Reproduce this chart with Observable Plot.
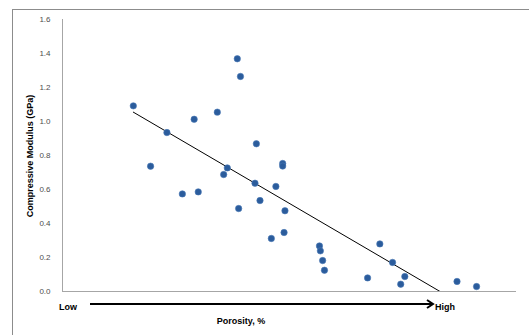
<!DOCTYPE html>
<html>
<head>
<meta charset="utf-8">
<script src="https://cdn.jsdelivr.net/npm/d3@7"></script>
<script src="https://cdn.jsdelivr.net/npm/@observablehq/plot@0.6"></script>
<style>
  html, body { margin: 0; padding: 0; background: #fff; overflow: hidden; }
  #chart { width: 529px; height: 335px; }
</style>
</head>
<body>
<div id="chart"></div>
<script>
// Porosity (relative position along the Low→High axis, 0–100) and compressive modulus (GPa)
const porosity = [15.6, 19.4, 23.0, 26.4, 29.0, 29.9, 34.1, 35.5, 36.3, 38.5, 39.2, 38.8,
  42.7, 42.4, 43.5, 47.0, 48.5, 48.5, 49.0, 48.8, 46.0, 56.6, 56.8, 57.3, 57.7,
  67.2, 69.9, 72.7, 75.4, 74.5, 86.9, 91.2];
const modulus = [1.092, 0.737, 0.935, 0.574, 1.013, 0.586, 1.055, 0.688, 0.727, 1.369, 1.265, 0.488,
  0.869, 0.637, 0.535, 0.618, 0.753, 0.738, 0.475, 0.347, 0.312, 0.268, 0.239, 0.182, 0.125,
  0.080, 0.280, 0.171, 0.088, 0.043, 0.059, 0.029];
const yTicks = [0, 0.2, 0.4, 0.6, 0.8, 1.0, 1.2, 1.4, 1.6];
const yTitle = "Compressive Modulus (GPa)";
const xTitle = "Porosity, %";
const lowLabel = "Low";
const highLabel = "High";

const data = porosity.map((p, i) => ({porosity: p, modulus: modulus[i]}));

const chart = Plot.plot({
  width: 529,
  height: 335,
  marginLeft: 62,
  marginRight: 13,
  marginTop: 19,
  marginBottom: 44,
  style: {fontFamily: "'Liberation Sans', Arial, sans-serif", fontSize: "8px", background: "transparent", overflow: "visible"},
  x: {domain: [0, 100], axis: null},
  y: {domain: [0, 1.6], axis: null},
  marks: [
    Plot.axisY({ticks: yTicks, tickFormat: d3.format(".1f"), tickSize: 0, tickPadding: 12, fill: "#4d4d4d", label: null}),
    Plot.ruleX([0], {stroke: "#a6a6a6", strokeWidth: 1}),
    Plot.ruleY([0], {stroke: "#a6a6a6", strokeWidth: 1}),
    Plot.linearRegressionY(data, {x: "porosity", y: "modulus", ci: 0, stroke: "black", strokeWidth: 1, clip: true}),
    Plot.dot(data, {x: "porosity", y: "modulus", r: 3.2, fill: "#2b5c9c", stroke: "#4a78b5", strokeWidth: 0.6})
  ]
});

const svg = d3.select(chart);
// outer chart-area border (Excel style), running off the right/bottom edges
svg.insert("rect", ":first-child")
  .attr("x", 12.5).attr("y", 9.5).attr("width", 620).attr("height", 420)
  .attr("fill", "#fff").attr("stroke", "#8c8c8c").attr("stroke-width", 1);

const fam = "'Liberation Sans', Arial, sans-serif";
svg.append("text")
  .attr("transform", "translate(33,156) rotate(-90)")
  .attr("text-anchor", "middle")
  .attr("font-family", fam).attr("font-weight", "bold").attr("font-size", 9)
  .attr("fill", "#000").text(yTitle);

svg.append("text")
  .attr("x", 68).attr("y", 309.5)
  .attr("font-family", fam).attr("font-weight", "bold").attr("font-size", 9)
  .attr("fill", "#000").text(lowLabel);

svg.append("text")
  .attr("x", 445).attr("y", 309.5)
  .attr("font-family", fam).attr("font-weight", "bold").attr("font-size", 9)
  .attr("fill", "#000").text(highLabel);

svg.append("text")
  .attr("x", 241).attr("y", 323.5)
  .attr("text-anchor", "middle")
  .attr("font-family", fam).attr("font-weight", "bold").attr("font-size", 9)
  .attr("fill", "#000").text(xTitle);

svg.append("line")
  .attr("x1", 90).attr("x2", 432).attr("y1", 304).attr("y2", 304)
  .attr("stroke", "#000").attr("stroke-width", 2.2);
svg.append("path")
  .attr("d", "M427,300 L433,304 L427,308")
  .attr("fill", "none").attr("stroke", "#000").attr("stroke-width", 2)
  .attr("stroke-linejoin", "miter");

document.getElementById("chart").appendChild(chart);
</script>
</body>
</html>
